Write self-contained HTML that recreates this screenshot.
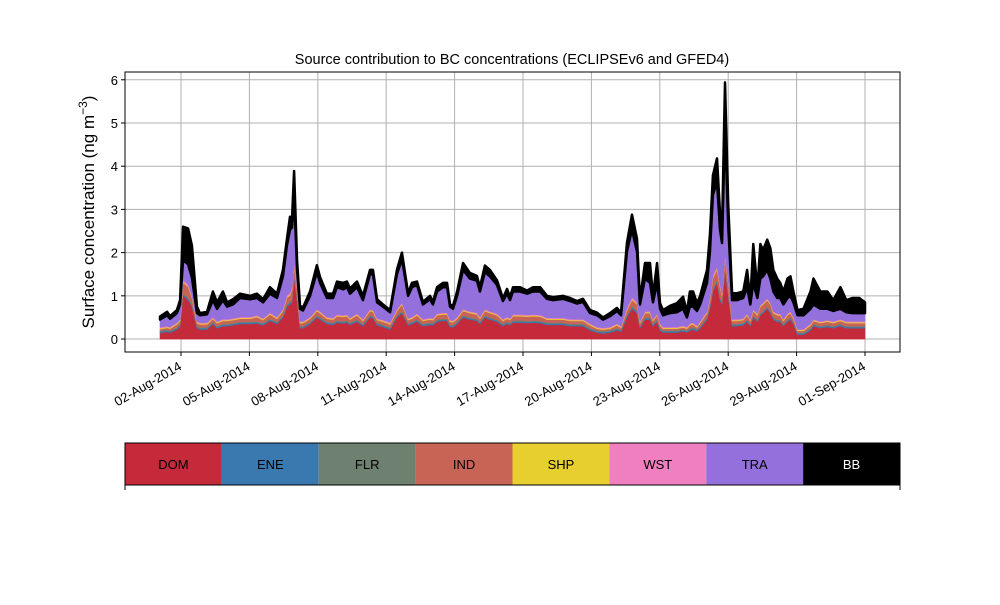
<!DOCTYPE html>
<html><head><meta charset="utf-8"><style>
body{margin:0;background:#fff;font-family:"Liberation Sans",sans-serif}
svg text{font-family:"Liberation Sans",sans-serif}
</style></head><body>
<svg id="c" width="1000" height="600" viewBox="0 0 1000 600">
<text x="512" y="64" text-anchor="middle" font-size="14.5">Source contribution to BC concentrations (ECLIPSEv6 and GFED4)</text>
<text transform="translate(94,212) rotate(-90)" text-anchor="middle" font-size="17">Surface concentration (ng m<tspan dy="-7" font-size="12">−3</tspan><tspan dy="7">)</tspan></text>
<g id="grid"></g>
<g id="areas"></g>
<rect x="125" y="72" width="775" height="280" fill="none" stroke="#000" stroke-width="1"/>
<g id="axes"></g>
<g id="legend"></g>
</svg>
<script>
const times=[-0.92,-0.61,-0.48,-0.18,-0.04,0.09,0.31,0.48,0.70,0.83,1.14,1.40,1.58,1.84,2.02,2.28,2.59,3.03,3.33,3.60,3.90,4.21,4.47,4.65,4.78,4.87,4.96,5.09,5.22,5.35,5.66,5.96,6.10,6.40,6.67,6.84,7.11,7.28,7.41,7.72,7.98,8.29,8.42,8.60,8.86,9.17,9.47,9.69,9.96,10.13,10.35,10.61,10.92,11.05,11.23,11.49,11.67,11.80,11.93,12.11,12.37,12.67,12.98,13.11,13.33,13.55,13.86,14.12,14.30,14.43,14.56,14.87,15.18,15.44,15.75,16.05,16.32,16.75,17.06,17.37,17.63,17.94,18.25,18.51,18.82,19.12,19.30,19.56,19.78,20.00,20.13,20.35,20.57,20.70,20.88,21.01,21.14,21.45,21.75,22.02,22.19,22.32,22.46,22.63,22.77,23.07,23.20,23.33,23.51,23.64,23.73,23.86,24.00,24.17,24.39,24.66,24.83,24.97,25.10,25.28,25.41,25.53,25.71,25.85,25.98,26.15,26.28,26.42,26.60,26.73,26.86,27.04,27.30,27.61,27.74,28.04,28.35,28.61,28.92,29.18,29.44,29.75,30.00];
const dom=[.14,.17,.15,.22,.3,1.0,.9,.75,.25,.22,.22,.35,.25,.3,.3,.32,.35,.35,.36,.32,.42,.35,.5,.75,.8,.85,1.4,.9,.25,.25,.35,.5,.45,.35,.33,.38,.36,.38,.33,.4,.3,.5,.48,.32,.28,.22,.5,.6,.32,.35,.4,.3,.33,.32,.4,.42,.42,.28,.27,.35,.5,.45,.42,.35,.5,.45,.4,.3,.35,.32,.38,.38,.37,.38,.37,.33,.33,.33,.3,.3,.3,.2,.15,.13,.15,.2,.17,.5,.7,.6,.25,.45,.45,.3,.4,.2,.15,.15,.15,.18,.15,.2,.22,.18,.25,.45,.7,1.1,1.3,.9,.8,1.6,1.0,.3,.3,.32,.4,.3,.5,.4,.55,.6,.7,.6,.45,.4,.4,.3,.4,.45,.35,.1,.1,.2,.3,.25,.28,.25,.3,.25,.25,.25,.25];
const ene=[.03,.03,.03,.03,.03,.04,.04,.04,.03,.03,.03,.03,.03,.03,.03,.03,.03,.03,.03,.03,.03,.03,.03,.04,.04,.04,.04,.04,.03,.03,.03,.03,.03,.03,.03,.03,.03,.03,.03,.03,.03,.03,.03,.03,.03,.03,.03,.03,.03,.03,.03,.03,.03,.03,.03,.03,.03,.03,.03,.03,.03,.03,.03,.03,.03,.03,.03,.03,.03,.03,.03,.03,.03,.03,.03,.03,.03,.03,.03,.03,.03,.03,.03,.03,.03,.03,.03,.04,.04,.04,.03,.03,.03,.03,.03,.03,.03,.03,.03,.03,.03,.03,.03,.03,.03,.03,.04,.04,.04,.04,.04,.04,.04,.03,.03,.03,.03,.03,.03,.03,.03,.03,.03,.03,.03,.03,.03,.03,.03,.03,.03,.03,.03,.03,.03,.03,.03,.03,.03,.03,.03,.03,.03];
const flr=[.02,.02,.02,.02,.02,.02,.02,.02,.02,.02,.02,.02,.02,.02,.02,.02,.02,.02,.02,.02,.02,.02,.02,.02,.02,.02,.02,.02,.02,.02,.02,.02,.02,.02,.02,.02,.02,.02,.02,.02,.02,.02,.02,.02,.02,.02,.02,.02,.02,.02,.02,.02,.02,.02,.02,.02,.02,.02,.02,.02,.02,.02,.02,.02,.02,.02,.02,.02,.02,.02,.02,.02,.02,.02,.02,.02,.02,.02,.02,.02,.02,.02,.02,.02,.02,.02,.02,.02,.02,.02,.02,.02,.02,.02,.02,.02,.02,.02,.02,.02,.02,.02,.02,.02,.02,.02,.02,.02,.02,.02,.02,.02,.02,.02,.02,.02,.02,.02,.02,.02,.02,.02,.02,.02,.02,.02,.02,.02,.02,.02,.02,.02,.02,.02,.02,.02,.02,.02,.02,.02,.02,.02,.02];
const ind=[.04,.04,.04,.07,.07,.25,.25,.15,.07,.07,.07,.07,.07,.07,.07,.07,.07,.07,.1,.07,.1,.07,.1,.15,.15,.25,.25,.25,.07,.07,.07,.1,.1,.07,.07,.1,.1,.1,.07,.1,.07,.1,.1,.07,.07,.07,.1,.15,.07,.07,.1,.07,.07,.07,.1,.1,.1,.07,.07,.07,.1,.1,.1,.07,.1,.1,.1,.07,.07,.07,.1,.1,.1,.1,.1,.07,.07,.07,.07,.07,.07,.07,.04,.04,.04,.07,.04,.1,.15,.15,.07,.1,.1,.07,.1,.07,.04,.04,.04,.04,.04,.07,.07,.04,.07,.1,.15,.25,.25,.25,.15,.25,.25,.07,.07,.07,.1,.07,.1,.1,.15,.15,.15,.15,.1,.1,.1,.07,.1,.1,.07,.04,.04,.07,.07,.07,.07,.07,.07,.07,.07,.07,.07];
const shp=[.02,.02,.02,.02,.02,.02,.02,.02,.02,.02,.02,.02,.02,.02,.02,.02,.02,.02,.02,.02,.02,.02,.02,.02,.02,.02,.02,.02,.02,.02,.02,.02,.02,.02,.02,.02,.02,.02,.02,.02,.02,.02,.02,.02,.02,.02,.02,.02,.02,.02,.02,.02,.02,.02,.02,.02,.02,.02,.02,.02,.02,.02,.02,.02,.02,.02,.02,.02,.02,.02,.02,.02,.02,.02,.02,.02,.02,.02,.02,.02,.02,.02,.02,.02,.02,.02,.02,.02,.02,.02,.02,.02,.02,.02,.02,.02,.02,.02,.02,.02,.02,.02,.02,.02,.02,.02,.02,.02,.02,.02,.02,.02,.02,.02,.02,.02,.02,.02,.02,.02,.02,.02,.02,.02,.02,.02,.02,.02,.02,.02,.02,.02,.02,.02,.02,.02,.02,.02,.02,.02,.02,.02,.02];
const wst=[.02,.02,.02,.02,.02,.04,.04,.03,.02,.02,.02,.02,.02,.02,.02,.02,.02,.02,.02,.02,.02,.02,.02,.04,.04,.04,.05,.03,.02,.02,.02,.02,.02,.02,.02,.02,.02,.02,.02,.02,.02,.02,.02,.02,.02,.02,.02,.02,.02,.02,.02,.02,.02,.02,.02,.02,.02,.02,.02,.02,.02,.02,.02,.02,.02,.02,.02,.02,.02,.02,.02,.02,.02,.02,.02,.02,.02,.02,.02,.02,.02,.02,.02,.02,.02,.02,.02,.04,.04,.03,.02,.02,.02,.02,.02,.02,.02,.02,.02,.02,.02,.02,.02,.02,.02,.02,.04,.05,.05,.04,.03,.05,.04,.02,.02,.02,.02,.02,.02,.02,.02,.02,.02,.02,.02,.02,.02,.02,.02,.02,.02,.02,.02,.02,.02,.02,.02,.02,.02,.02,.02,.02,.02];
const tra=[.18,.25,.19,.22,.34,.46,.46,.41,.19,.17,.19,.39,.29,.44,.29,.32,.44,.41,.4,.37,.44,.44,.76,1.16,1.46,1.36,1.56,.36,.29,.25,.49,.86,.66,.44,.46,.63,.6,.63,.56,.61,.44,.81,.83,.37,.31,.24,.81,1.01,.52,.69,.66,.34,.43,.32,.51,.59,.59,.31,.27,.49,.91,.76,.74,.59,.86,.81,.66,.42,.54,.42,.53,.53,.49,.53,.54,.44,.41,.44,.42,.36,.4,.24,.27,.19,.25,.29,.25,1.31,1.56,1.16,.39,.76,.66,.39,.71,.34,.27,.32,.34,.39,.22,.39,.37,.34,.39,.66,1.06,1.86,1.96,1.26,1.16,2.96,1.26,.44,.44,.47,.61,.34,.61,.36,.61,.61,.66,.56,.46,.36,.36,.34,.36,.36,.34,.32,.32,.34,.34,.29,.26,.24,.24,.21,.19,.19,.19];
const bb=[.07,.08,.06,.07,.1,.77,.83,.74,.15,.05,.06,.2,.15,.2,.1,.12,.1,.08,.1,.07,.15,.1,.15,.15,.3,.2,.55,.2,.07,.07,.1,.16,.13,.1,.1,.13,.15,.13,.12,.13,.1,.1,.1,.07,.05,.05,.1,.15,.06,.1,.08,.06,.08,.06,.1,.1,.1,.05,.07,.1,.16,.13,.11,.1,.15,.15,.11,.06,.11,.07,.1,.1,.07,.1,.1,.07,.07,.07,.07,.06,.07,.07,.06,.05,.07,.07,.06,.2,.35,.3,.1,.36,.46,.15,.46,.13,.12,.17,.21,.28,.13,.35,.35,.18,.2,.3,.4,.45,.54,.4,.3,1.0,.5,.16,.16,.15,.4,.1,.9,.2,.8,.61,.7,.7,.5,.45,.35,.3,.45,.45,.25,.12,.15,.4,.6,.4,.4,.25,.5,.28,.35,.35,.25];
const seriesNames=["DOM","ENE","FLR","IND","SHP","WST","TRA","BB"];
const seriesColors=["#c52a3a","#3a78b0","#6e8070","#c86455","#e6cf2e","#f07fbf","#9370db","#000000"];
const yTicks=[0,1,2,3,4,5,6];
const xTickLabels=["02-Aug-2014","05-Aug-2014","08-Aug-2014","11-Aug-2014","14-Aug-2014","17-Aug-2014","20-Aug-2014","23-Aug-2014","26-Aug-2014","29-Aug-2014","01-Sep-2014"];
const xTickDays=[0,3,6,9,12,15,18,21,24,27,30];

const NS="http://www.w3.org/2000/svg";
const X0=125,X1=900,Y0=72,Y1=352;
const tMin=-2.456,tMax=31.535,vMin=-0.3,vMax=6.18;
function sx(t){return X0+(t-tMin)/(tMax-tMin)*(X1-X0);}
function sy(v){return Y1-(v-vMin)/(vMax-vMin)*(Y1-Y0);}
function mk(tag,attrs,parent){const e=document.createElementNS(NS,tag);for(const k in attrs)e.setAttribute(k,attrs[k]);parent.appendChild(e);return e;}

const grid=document.getElementById('grid'),axes=document.getElementById('axes'),areas=document.getElementById('areas'),legend=document.getElementById('legend');
yTicks.forEach(v=>{
  const y=sy(v);
  const g=mk('line',{x1:X0,x2:X1,y1:y,y2:y,stroke:'#b0b0b0','stroke-width':1},grid);
  
  
  const t=mk('line',{x1:X0-4,x2:X0,y1:y,y2:y,stroke:'#000'},axes);
  
  
  const l=mk('text',{x:X0-7,y:y+5,'text-anchor':'end','font-size':13},axes);
  l.textContent=String(v);
  
  
});
xTickDays.forEach((d,i)=>{
  const x=sx(d);
  const g=mk('line',{x1:x,x2:x,y1:Y0,y2:Y1,stroke:'#b0b0b0','stroke-width':1},grid);
  
  
  const t=mk('line',{x1:x,x2:x,y1:Y1,y2:Y1+4,stroke:'#000'},axes);
  
  
  const l=mk('text',{transform:`translate(${x-3},${Y1+9}) rotate(-30)`,'text-anchor':'end','font-size':13,dy:'0.7em'},axes);
  l.textContent=xTickLabels[i];
  
  
});
const layers=[dom,ene,flr,ind,shp,wst,tra,bb];
let base=times.map(()=>0);
layers.forEach((arr,k)=>{
  const top=base.map((b,i)=>b+arr[i]);
  let d='M'+times.map((t,i)=>sx(t).toFixed(2)+','+sy(top[i]).toFixed(2)).join('L');
  for(let i=times.length-1;i>=0;i--)d+='L'+sx(times[i]).toFixed(2)+','+sy(base[i]).toFixed(2);
  d+='Z';
  const p=mk('path',{d:d,fill:seriesColors[k],stroke:seriesColors[k],'stroke-width':k==7?2.5:0.6,'stroke-linejoin':'round'},areas);
  
  
  base=top;
});
const lw=(X1-X0)/seriesNames.length;
seriesNames.forEach((n,k)=>{
  const r=mk('rect',{x:X0+k*lw,y:443,width:lw,height:42,fill:seriesColors[k]},legend);
  
  
  const t=mk('text',{x:X0+k*lw+lw/2,y:469,'text-anchor':'middle','font-size':13,fill:n==='BB'?'#fff':'#000'},legend);
  t.textContent=n;
  
  
});
const lf=mk('rect',{x:X0,y:443,width:X1-X0,height:42,fill:'none',stroke:'#000','stroke-width':1},legend);


[X0,X1].forEach(x=>{
  const t=mk('line',{x1:x,x2:x,y1:485,y2:490,stroke:'#000'},legend);
  
  
});
</script>
</body></html>
